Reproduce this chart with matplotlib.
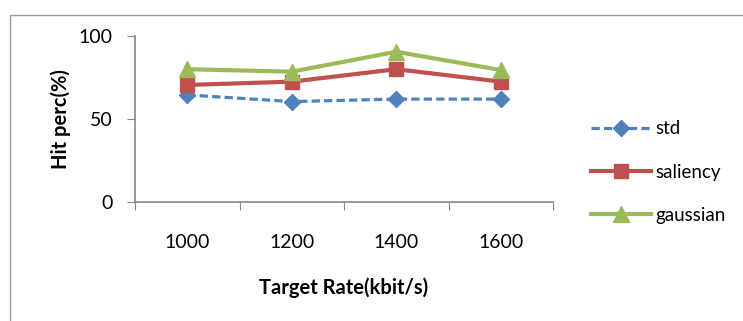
import matplotlib
matplotlib.use("Agg")
import matplotlib.pyplot as plt
from matplotlib.patches import Rectangle

rates = ["1000", "1200", "1400", "1600"]
std = [64.5, 60.5, 62, 62]
saliency = [70.5, 72.5, 80, 72.5]
gaussian = [80, 78.5, 90.5, 79.5]

plt.rcParams["font.family"] = ["Lato", "DejaVu Sans"]

fig = plt.figure(figsize=(7.43, 3.21), dpi=100)
# outer chart frame
fig.patches.append(Rectangle((10 / 743, -0.1), 1.2, 1 - 15 / 321 + 0.1,
                             transform=fig.transFigure, fill=False,
                             edgecolor="#9a9a9a", linewidth=1.0))

ax = fig.add_axes([135 / 743, 1 - 202 / 321, (553 - 135) / 743, (202 - 36) / 321])
x = range(len(rates))

ax.plot(x, std, color="#4F81BD", linestyle=(0, (2.6, 1.3)), linewidth=2.3,
        marker="D", markersize=8.5, label="std")
ax.plot(x, saliency, color="#C0504D", linewidth=3.0,
        marker="s", markersize=10, label="saliency")
ax.plot(x, gaussian, color="#9BBB59", linewidth=3.0,
        marker="^", markersize=11, label="gaussian")

ax.set_xlim(-0.5, len(rates) - 0.5)
ax.set_ylim(0, 100)
ax.set_yticks([0, 50, 100])
ax.set_xticks([i - 0.5 for i in range(len(rates) + 1)], minor=False)
ax.set_xticklabels([])
ax.set_xticks(list(x), minor=True)
ax.set_xticklabels(rates, minor=True)
ax.tick_params(axis="x", which="major", length=6, direction="out", color="#868686")
ax.tick_params(axis="x", which="minor", length=0, pad=23, labelsize=14)
ax.tick_params(axis="y", length=6, direction="out", color="#868686", labelsize=14, pad=10)

for side in ("top", "right"):
    ax.spines[side].set_visible(False)
for side in ("left", "bottom"):
    ax.spines[side].set_color("#868686")
    ax.spines[side].set_linewidth(1.2)

ax.set_xlabel("Target Rate(kbit/s)", fontsize=14.5, fontweight="bold")
ax.set_ylabel("Hit perc(%)", fontsize=14.5, fontweight="bold")
ax.xaxis.set_label_coords(0.5, -0.455)
ax.yaxis.set_label_coords(-0.152, 0.5)

ax.legend(loc="center left", bbox_to_anchor=(1.05, 0.18), frameon=False,
          fontsize=13.5, labelspacing=1.4, handlelength=3.2, handletextpad=0.25)

fig.savefig("out.png", dpi=100)
